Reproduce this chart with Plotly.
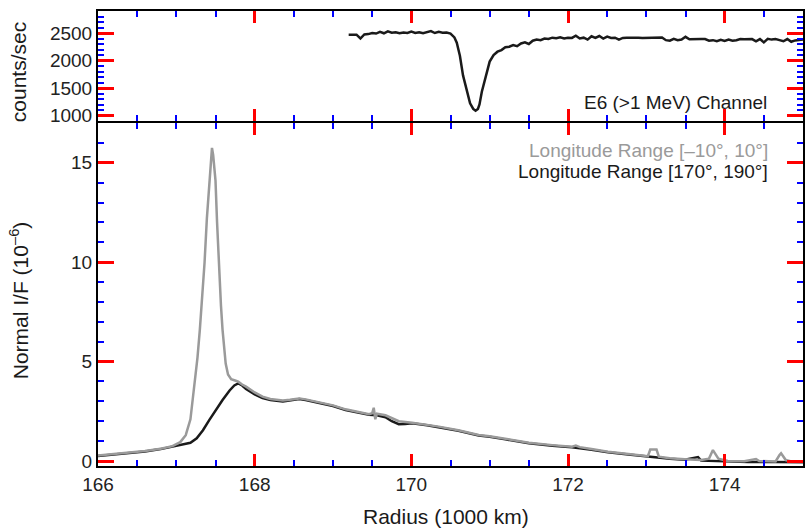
import plotly.graph_objects as go

# ---- top panel: E6 (>1 MeV) channel count rate ----
e6_radius = [169.20, 169.25, 169.30, 169.35, 169.40, 169.45, 169.50, 169.55, 169.60, 169.65,
             169.70, 169.75, 169.80, 169.85, 169.90, 169.95, 170.00, 170.05, 170.10, 170.15,
             170.20, 170.25, 170.30, 170.35, 170.40, 170.45, 170.50, 170.55, 170.58, 170.62,
             170.66, 170.71, 170.75, 170.79, 170.82, 170.85, 170.87, 170.90, 170.95, 171.00,
             171.05, 171.10, 171.15, 171.20, 171.25, 171.30, 171.35, 171.40, 171.45, 171.50,
             171.55, 171.60, 171.65, 171.70, 171.75, 171.80, 171.85, 171.90, 171.95, 172.00,
             172.05, 172.10, 172.15, 172.20, 172.25, 172.30, 172.35, 172.40, 172.45, 172.50,
             172.55, 172.60, 172.65, 172.70, 172.75, 172.80, 172.85, 172.90, 172.95, 173.00,
             173.05, 173.10, 173.15, 173.20, 173.25, 173.30, 173.35, 173.40, 173.45, 173.50,
             173.55, 173.60, 173.65, 173.70, 173.75, 173.80, 173.85, 173.90, 173.95, 174.00,
             174.05, 174.10, 174.15, 174.20, 174.25, 174.30, 174.35, 174.40, 174.45, 174.50,
             174.55, 174.60, 174.65, 174.70, 174.75, 174.80, 174.85, 174.90, 174.95, 175.00]
e6_counts = [2470, 2475, 2470, 2400, 2475, 2480, 2500, 2490, 2520, 2495,
             2530, 2505, 2515, 2495, 2510, 2500, 2525, 2500, 2515, 2495,
             2510, 2535, 2500, 2520, 2505, 2510, 2490, 2420, 2325, 2086,
             1729, 1432, 1223, 1120, 1086, 1120, 1200, 1432, 1729, 1980,
             2100, 2160, 2190, 2240, 2250, 2280, 2260, 2310, 2330, 2300,
             2360, 2380, 2370, 2400, 2390, 2415, 2405, 2420, 2400, 2415,
             2410, 2450, 2400, 2415, 2380, 2440, 2410, 2445, 2400, 2435,
             2410, 2415, 2380, 2410, 2415, 2410, 2410, 2412, 2410, 2410,
             2412, 2410, 2415, 2420, 2370, 2360, 2395, 2370, 2380, 2430,
             2385, 2390, 2395, 2390, 2390, 2360, 2370, 2350, 2375, 2355,
             2380, 2360, 2370, 2390, 2385, 2390, 2390, 2350, 2390, 2330,
             2395, 2380, 2390, 2370, 2350, 2390, 2340, 2365, 2370, 2380]

# ---- bottom panel: Normal I/F profiles ----
gray_radius = [166.00, 166.20, 166.40, 166.60, 166.80, 166.95, 167.05, 167.12, 167.18, 167.23,
               167.27, 167.30, 167.33, 167.36, 167.39, 167.42, 167.44, 167.455, 167.47, 167.50,
               167.52, 167.54, 167.57, 167.59, 167.61, 167.63, 167.66, 167.70, 167.75, 167.79,
               167.84, 167.89, 168.00, 168.10, 168.20, 168.36, 168.45, 168.57, 168.65, 168.74,
               168.90, 169.00, 169.16, 169.30, 169.46, 169.50, 169.52, 169.54, 169.56, 169.67,
               169.84, 170.01, 170.20, 170.35, 170.60, 170.86, 171.00, 171.20, 171.50, 171.80,
               172.05, 172.10, 172.15, 172.30, 172.51, 172.80, 173.02, 173.05, 173.13, 173.16,
               173.30, 173.49, 173.70, 173.80, 173.85, 173.92, 174.04, 174.25, 174.40, 174.44,
               174.65, 174.70, 174.72, 174.78, 174.85, 175.00]
gray_if = [0.28, 0.35, 0.42, 0.50, 0.62, 0.75, 0.95, 1.30, 2.10, 3.70,
           5.20, 6.60, 8.20, 9.96, 12.2, 14.1, 15.3, 15.75, 15.4, 14.1,
           12.0, 9.96, 7.8, 6.6, 5.6, 4.9, 4.35, 4.12, 4.05, 3.99,
           3.85, 3.74, 3.45, 3.24, 3.12, 3.05, 3.08, 3.15, 3.10, 3.03,
           2.88, 2.80, 2.60, 2.48, 2.35, 2.40, 2.68, 2.10, 2.38, 2.30,
           2.00, 1.93, 1.83, 1.73, 1.55, 1.31, 1.25, 1.12, 0.92, 0.80,
           0.72, 0.78, 0.70, 0.60, 0.47, 0.34, 0.24, 0.58, 0.58, 0.22,
           0.14, 0.09, 0.05, 0.12, 0.55, 0.12, 0.00, -0.01, 0.10, 0.00,
           -0.02, 0.30, 0.39, 0.05, -0.02, -0.03]

black_radius = [166.00, 166.20, 166.40, 166.60, 166.80, 166.95, 167.09, 167.18, 167.26, 167.34,
                167.42, 167.50, 167.59, 167.68, 167.74, 167.79, 167.84, 167.89, 168.00, 168.10,
                168.20, 168.36, 168.45, 168.57, 168.65, 168.74, 168.90, 169.00, 169.16, 169.30,
                169.46, 169.56, 169.67, 169.75, 169.84, 169.92, 170.01, 170.20, 170.35, 170.60,
                170.86, 171.00, 171.20, 171.50, 171.80, 172.05, 172.30, 172.51, 172.80, 173.02,
                173.30, 173.49, 173.66, 173.70, 174.04, 174.30, 174.65, 175.00]
black_if = [0.25, 0.33, 0.40, 0.48, 0.60, 0.72, 0.82, 0.92, 1.14, 1.55,
            2.06, 2.55, 3.07, 3.55, 3.80, 3.90, 3.80, 3.62, 3.35, 3.17,
            3.07, 3.00, 3.05, 3.12, 3.07, 3.00, 2.85, 2.77, 2.57, 2.45,
            2.33, 2.30, 2.20, 2.00, 1.85, 1.86, 1.90, 1.80, 1.70, 1.52,
            1.28, 1.22, 1.09, 0.89, 0.77, 0.69, 0.57, 0.44, 0.31, 0.21,
            0.11, 0.06, 0.20, 0.02, -0.03, -0.05, -0.05, -0.06]

x_ticks = [166, 168, 170, 172, 174]
top_ticks = [1000, 1500, 2000, 2500]
bottom_ticks = [0, 5, 10, 15]

X_RANGE = [166, 175]
TOP_RANGE = [900, 2900]
BOTTOM_RANGE = [-0.25, 17]

FONT = "Liberation Sans, Arial, Helvetica, sans-serif"
BLACK = "#1a1a1a"
GRAY = "#9a9a9a"

fig = go.Figure()
fig.add_trace(go.Scatter(x=e6_radius, y=e6_counts, mode="lines", xaxis="x2", yaxis="y2",
                         line=dict(color=BLACK, width=2.5), showlegend=False))
fig.add_trace(go.Scatter(x=black_radius, y=black_if, mode="lines", xaxis="x", yaxis="y",
                         line=dict(color=BLACK, width=2.5), showlegend=False))
fig.add_trace(go.Scatter(x=gray_radius, y=gray_if, mode="lines", xaxis="x", yaxis="y",
                         line=dict(color=GRAY, width=2.5), showlegend=False))

split = 343 / 455
gap = 2 / 455
tickfont = dict(family=FONT, size=19, color="#222")


def axis(**kw):
    d = dict(showline=True, linecolor="black", linewidth=2, mirror="ticks",
             ticks="inside", tickcolor="red", tickwidth=3, showgrid=False,
             zeroline=False, tickfont=tickfont, tickmode="linear",
             minor=dict(ticks="inside", ticklen=6, tickwidth=2, tickcolor="blue"))
    d.update(kw)
    return d


fig.update_layout(
    width=807, height=529,
    margin=dict(l=98, r=2, t=11, b=63),
    paper_bgcolor="white", plot_bgcolor="white",
    xaxis=axis(domain=[0, 1], anchor="y", range=X_RANGE, tick0=x_ticks[0],
               dtick=x_ticks[1] - x_ticks[0], ticklen=12),
    yaxis=axis(domain=[0, split], anchor="x", range=BOTTOM_RANGE, tick0=bottom_ticks[0],
               dtick=bottom_ticks[1] - bottom_ticks[0], ticklen=16),
    xaxis2=axis(domain=[0, 1], anchor="y2", range=X_RANGE, tick0=x_ticks[0],
                dtick=x_ticks[1] - x_ticks[0], ticklen=12, showticklabels=False),
    yaxis2=axis(domain=[split + gap, 1], anchor="x2", range=TOP_RANGE, tick0=top_ticks[0],
                dtick=top_ticks[1] - top_ticks[0], ticklen=16),
)


def px_x(p):
    return (p - 98) / 707


def px_y(p):
    return (466 - p) / 455


ann = [
    dict(text="Longitude Range [–10°, 10°]", x=px_x(772), y=px_y(150), xanchor="right", yanchor="middle",
         font=dict(size=19, color=GRAY, family=FONT)),
    dict(text="Longitude Range [170°, 190°]", x=px_x(772), y=px_y(172), xanchor="right", yanchor="middle",
         font=dict(size=19, color=BLACK, family=FONT)),
    dict(text="E6 (>1 MeV) Channel", x=px_x(771), y=px_y(103), xanchor="right", yanchor="middle",
         font=dict(size=19, color=BLACK, family=FONT)),
    dict(text="counts/sec", x=px_x(19), y=px_y(72), xanchor="center", yanchor="middle", textangle=-90,
         font=dict(size=21, color=BLACK, family=FONT)),
    dict(text="Normal I/F (10<sup>–6</sup>)", x=px_x(19), y=px_y(300), xanchor="center", yanchor="middle",
         textangle=-90, font=dict(size=21, color=BLACK, family=FONT)),
    dict(text="Radius (1000 km)", x=px_x(447), y=px_y(516), xanchor="center", yanchor="middle",
         font=dict(size=21, color=BLACK, family=FONT)),
]
for a in ann:
    a.update(xref="paper", yref="paper", showarrow=False)
fig.update_layout(annotations=ann)

fig.write_html("out.html")
